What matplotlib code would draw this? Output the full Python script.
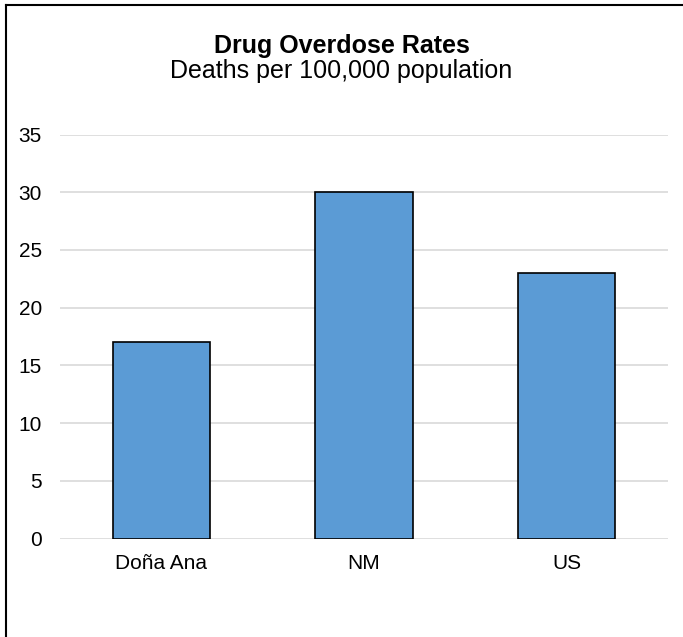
import matplotlib.pyplot as plt
from matplotlib.lines import Line2D

# === data ===
categories = ["Doña Ana", "NM", "US"]
rates = [17, 30, 23]
yticks = [0, 5, 10, 15, 20, 25, 30, 35]

plt.rcParams['font.family'] = ['Liberation Sans', 'DejaVu Sans']

fig = plt.figure(figsize=(6.83, 6.37), dpi=100)
ax = fig.add_axes([60 / 683, 1 - 538.5 / 637, 608 / 683, 404 / 637])

ax.bar(range(len(categories)), rates, width=0.48, color="#5B9BD5",
       edgecolor="black", linewidth=1.2, zorder=3)
ax.set_xlim(-0.5, len(categories) - 0.5)
ax.set_ylim(0, 35)
ax.set_yticks(yticks)
ax.set_xticks(range(len(categories)))
ax.set_xticklabels(categories)
ax.grid(axis="y", color="#D9D9D9", linewidth=1.2, zorder=0)
for s in ax.spines.values():
    s.set_visible(False)
ax.tick_params(length=0, labelsize=15, colors="black")
ax.tick_params(axis="y", pad=13)
ax.tick_params(axis="x", pad=11)

# === titles ===
fig.text(0.5, 1 - 53 / 637, "Drug Overdose Rates", ha="center", va="baseline",
         fontsize=18, fontweight="bold")
fig.text(0.5, 1 - 78 / 637, "Deaths per 100,000 population", ha="center",
         va="baseline", fontsize=18)

# === border (top and left only) ===
fig.add_artist(Line2D([6 / 683, 1], [1 - 4.5 / 637, 1 - 4.5 / 637],
                      transform=fig.transFigure, color="black", linewidth=1.5))
fig.add_artist(Line2D([6 / 683, 6 / 683], [0, 1 - 4.5 / 637],
                      transform=fig.transFigure, color="black", linewidth=1.5))

fig.savefig("out.png", dpi=100)
